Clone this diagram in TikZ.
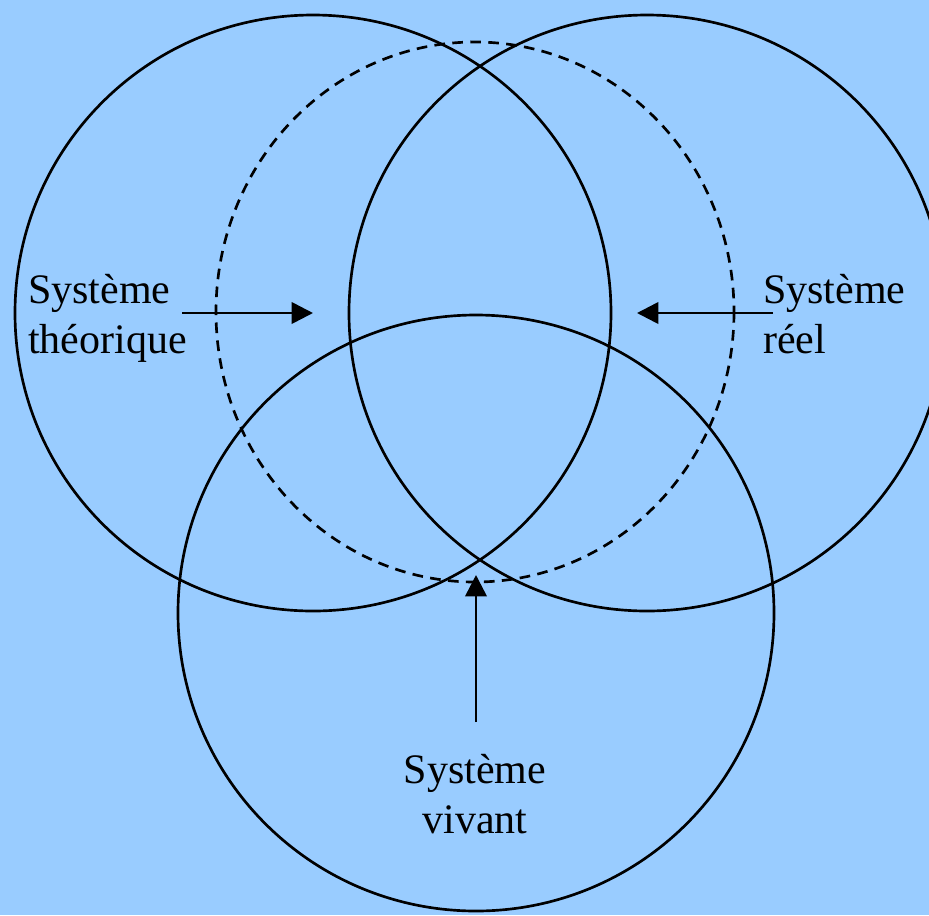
\documentclass[tikz,border=0pt]{standalone}
\usepackage{fontspec}
\setmainfont{Liberation Serif}
\usetikzlibrary{arrows.meta}

\definecolor{fond}{HTML}{99CCFF}
\tikzset{
  cercle/.style={line width=2pt},
  pointille/.style={line width=2pt, dash pattern=on 8pt off 5.5pt},
  fleche/.style={line width=2pt, -{Triangle[length=16pt,width=16pt]}},
  etiquette/.style={inner sep=0pt, align=left, font=\fontsize{31.5}{37.5}\selectfont}
}

\begin{document}
\begin{tikzpicture}[x=0.75pt,y=-0.75pt]
  \useasboundingbox (0,0) rectangle (929,915);
  \fill[fond] (0,0) rectangle (929,915);

  \begin{scope}
    % les trois systemes
    \draw[cercle] (313,313) circle[radius=298]; % theorique
    \draw[cercle] (647,313) circle[radius=298]; % reel
    \draw[cercle] (476,613) circle[radius=298]; % vivant
    \draw[pointille] (475,312) ellipse[x radius=259, y radius=270];

    \node[etiquette, anchor=base west] (theo) at (28,353) {Système\\théorique};
    \node[etiquette, anchor=base west] (reel) at (763,353) {Système\\réel};
    \node[etiquette, anchor=base, align=center] (vivant) at (475,833) {Système\\vivant};

    \coordinate (theo-a) at (182,313);
    \coordinate (theo-b) at (313,313);
    \coordinate (reel-a) at (773,313);
    \coordinate (reel-b) at (637,313);
    \coordinate (vivant-a) at (476,722);
    \coordinate (vivant-b) at (476,575);

    \draw[fleche] (theo-a) -- (theo-b); % vers le centre
    \draw[fleche] (reel-a) -- (reel-b);
    \draw[fleche] (vivant-a) -- (vivant-b);
  \end{scope}
\end{tikzpicture}
\end{document}
